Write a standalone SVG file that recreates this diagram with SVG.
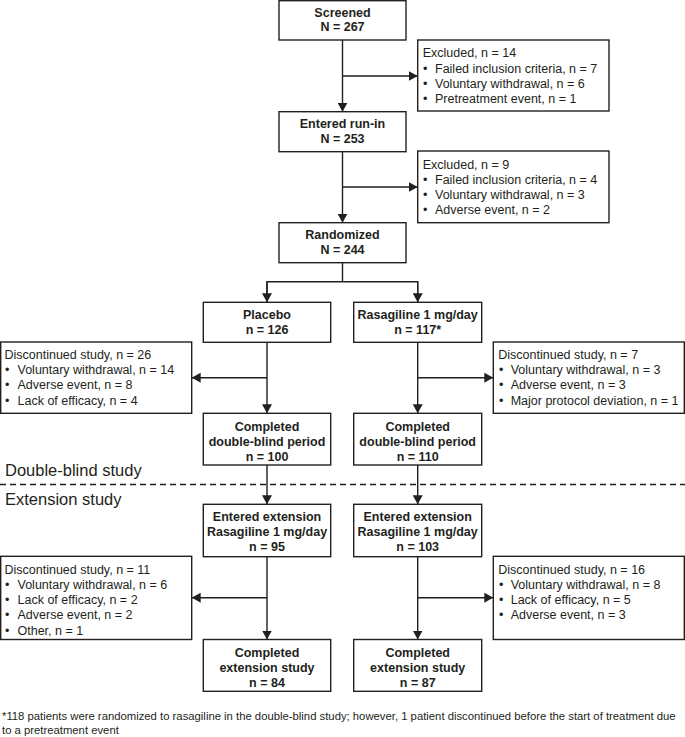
<svg xmlns="http://www.w3.org/2000/svg" width="685" height="737" viewBox="0 0 685 737">
<style>
.box{fill:#fff;stroke:#231f20;stroke-width:1.4}
.t{font-family:"Liberation Sans",Arial,sans-serif;font-size:12.5px;fill:#231f20}
.b{font-weight:bold;text-anchor:middle}
.ln{fill:none;stroke:#231f20;stroke-width:1.4}
.lbl{font-family:"Liberation Sans",Arial,sans-serif;font-size:16.5px;fill:#231f20}
.fn{font-family:"Liberation Sans",Arial,sans-serif;font-size:11.3px;fill:#231f20}
</style>
<defs>
<marker id="ah" markerUnits="userSpaceOnUse" markerWidth="9" markerHeight="10" refX="9" refY="5" orient="auto" viewBox="0 0 9 10">
<path d="M0,0 L9,5 L0,10 z" fill="#231f20"/>
</marker>
</defs>

<g id="connectors">
<line class="ln" x1="342.5" y1="40" x2="342.5" y2="111.7" marker-end="url(#ah)"/>
<line class="ln" x1="342.5" y1="76" x2="417.7" y2="76" marker-end="url(#ah)"/>
<line class="ln" x1="342.5" y1="151.7" x2="342.5" y2="222.7" marker-end="url(#ah)"/>
<line class="ln" x1="342.5" y1="187" x2="417.7" y2="187" marker-end="url(#ah)"/>
<polyline class="ln" points="342.5,262.7 342.5,281.7"/>
<polyline class="ln" points="267,302.3 267,281.7 417.7,281.7 417.7,302.3"/>
<line class="ln" x1="267" y1="281.7" x2="267" y2="302.3" marker-end="url(#ah)"/>
<line class="ln" x1="417.7" y1="281.7" x2="417.7" y2="302.3" marker-end="url(#ah)"/>
<line class="ln" x1="267" y1="342.3" x2="267" y2="413.3" marker-end="url(#ah)"/>
<line class="ln" x1="267" y1="377.7" x2="191.7" y2="377.7" marker-end="url(#ah)"/>
<line class="ln" x1="417.7" y1="342.3" x2="417.7" y2="413.3" marker-end="url(#ah)"/>
<line class="ln" x1="417.7" y1="377.7" x2="493.3" y2="377.7" marker-end="url(#ah)"/>
<line class="ln" x1="267" y1="465" x2="267" y2="504.3" marker-end="url(#ah)"/>
<line class="ln" x1="417.7" y1="465" x2="417.7" y2="504.3" marker-end="url(#ah)"/>
<line class="ln" x1="267" y1="556.7" x2="267" y2="639.5" marker-end="url(#ah)"/>
<line class="ln" x1="267" y1="597.7" x2="191.7" y2="597.7" marker-end="url(#ah)"/>
<line class="ln" x1="417.7" y1="556.7" x2="417.7" y2="639.5" marker-end="url(#ah)"/>
<line class="ln" x1="417.7" y1="597.7" x2="493.3" y2="597.7" marker-end="url(#ah)"/>
</g>

<g id="divider">
<line x1="0" y1="484.5" x2="685" y2="484.5" stroke="#231f20" stroke-width="1.3" stroke-dasharray="6 4"/>
<text class="lbl" x="5" y="475.5">Double-blind study</text>
<text class="lbl" x="5" y="505">Extension study</text>
</g>

<g id="screened">
<rect class="box" x="279" y="0.7" width="127" height="39.3"/>
<text class="t b" x="342.5" y="16.8">Screened</text>
<text class="t b" x="342.5" y="31.3">N = 267</text>
</g>

<g id="excluded1">
<rect class="box" x="417.7" y="40" width="191.3" height="71"/>
<text class="t" x="422.7" y="57.2">Excluded, n = 14</text>
<text class="t" x="423" y="72.5">•</text><text class="t" x="435" y="72.5">Failed inclusion criteria, n = 7</text>
<text class="t" x="423" y="87.7">•</text><text class="t" x="435" y="87.7">Voluntary withdrawal, n = 6</text>
<text class="t" x="423" y="102.8">•</text><text class="t" x="435" y="102.8">Pretreatment event, n = 1</text>
</g>

<g id="runin">
<rect class="box" x="279" y="111.7" width="127" height="40"/>
<text class="t b" x="342.5" y="128">Entered run-in</text>
<text class="t b" x="342.5" y="142.5">N = 253</text>
</g>

<g id="excluded2">
<rect class="box" x="417.7" y="151" width="191.3" height="71.7"/>
<text class="t" x="422.7" y="168.5">Excluded, n = 9</text>
<text class="t" x="423" y="183.7">•</text><text class="t" x="435" y="183.7">Failed inclusion criteria, n = 4</text>
<text class="t" x="423" y="198.9">•</text><text class="t" x="435" y="198.9">Voluntary withdrawal, n = 3</text>
<text class="t" x="423" y="214.1">•</text><text class="t" x="435" y="214.1">Adverse event, n = 2</text>
</g>

<g id="randomized">
<rect class="box" x="279" y="222.7" width="127" height="40"/>
<text class="t b" x="342.5" y="239">Randomized</text>
<text class="t b" x="342.5" y="254">N = 244</text>
</g>

<g id="placebo">
<rect class="box" x="203.3" y="302.3" width="127.4" height="40"/>
<text class="t b" x="267" y="318.5">Placebo</text>
<text class="t b" x="267" y="333.5">n = 126</text>
</g>

<g id="rasagiline">
<rect class="box" x="353.7" y="302.3" width="128" height="40"/>
<text class="t b" x="417.7" y="318.5">Rasagiline 1 mg/day</text>
<text class="t b" x="417.7" y="333.5">n = 117*</text>
</g>

<g id="disc1-placebo">
<rect class="box" x="0.7" y="342" width="191" height="71.3"/>
<text class="t" x="4.5" y="359">Discontinued study, n = 26</text>
<text class="t" x="5" y="374.2">•</text><text class="t" x="17.5" y="374.2">Voluntary withdrawal, n = 14</text>
<text class="t" x="5" y="389.4">•</text><text class="t" x="17.5" y="389.4">Adverse event, n = 8</text>
<text class="t" x="5" y="404.6">•</text><text class="t" x="17.5" y="404.6">Lack of efficacy, n = 4</text>
</g>

<g id="disc1-rasagiline">
<rect class="box" x="493.3" y="342" width="191" height="71.3"/>
<text class="t" x="498.3" y="359">Discontinued study, n = 7</text>
<text class="t" x="499" y="374.2">•</text><text class="t" x="510.7" y="374.2">Voluntary withdrawal, n = 3</text>
<text class="t" x="499" y="389.4">•</text><text class="t" x="510.7" y="389.4">Adverse event, n = 3</text>
<text class="t" x="499" y="404.6">•</text><text class="t" x="510.7" y="404.6">Major protocol deviation, n = 1</text>
</g>

<g id="completed-db-placebo">
<rect class="box" x="203.3" y="413.3" width="127.4" height="51.7"/>
<text class="t b" x="267" y="430.5">Completed</text>
<text class="t b" x="267" y="445.5">double-blind period</text>
<text class="t b" x="267" y="460.5">n = 100</text>
</g>

<g id="completed-db-rasagiline">
<rect class="box" x="353.7" y="413.3" width="128" height="51.7"/>
<text class="t b" x="417.7" y="430.5">Completed</text>
<text class="t b" x="417.7" y="445.5">double-blind period</text>
<text class="t b" x="417.7" y="460.5">n = 110</text>
</g>

<g id="entered-ext-placebo">
<rect class="box" x="203.3" y="504.3" width="127.4" height="52.4"/>
<text class="t b" x="267" y="520.5">Entered extension</text>
<text class="t b" x="267" y="535.5">Rasagiline 1 mg/day</text>
<text class="t b" x="267" y="550.5">n = 95</text>
</g>

<g id="entered-ext-rasagiline">
<rect class="box" x="353.7" y="504.3" width="128" height="52.4"/>
<text class="t b" x="417.7" y="520.5">Entered extension</text>
<text class="t b" x="417.7" y="535.5">Rasagiline 1 mg/day</text>
<text class="t b" x="417.7" y="550.5">n = 103</text>
</g>

<g id="disc2-placebo">
<rect class="box" x="0.7" y="556.3" width="191" height="83.2"/>
<text class="t" x="4.5" y="573.8">Discontinued study, n = 11</text>
<text class="t" x="5" y="589">•</text><text class="t" x="17.5" y="589">Voluntary withdrawal, n = 6</text>
<text class="t" x="5" y="604.2">•</text><text class="t" x="17.5" y="604.2">Lack of efficacy, n = 2</text>
<text class="t" x="5" y="619.4">•</text><text class="t" x="17.5" y="619.4">Adverse event, n = 2</text>
<text class="t" x="5" y="634.5">•</text><text class="t" x="17.5" y="634.5">Other, n = 1</text>
</g>

<g id="disc2-rasagiline">
<rect class="box" x="493.3" y="556.3" width="191" height="83.2"/>
<text class="t" x="498.3" y="573.8">Discontinued study, n = 16</text>
<text class="t" x="499" y="589">•</text><text class="t" x="510.7" y="589">Voluntary withdrawal, n = 8</text>
<text class="t" x="499" y="604.2">•</text><text class="t" x="510.7" y="604.2">Lack of efficacy, n = 5</text>
<text class="t" x="499" y="619.4">•</text><text class="t" x="510.7" y="619.4">Adverse event, n = 3</text>
</g>

<g id="completed-ext-placebo">
<rect class="box" x="203.3" y="639.5" width="127.4" height="51.8"/>
<text class="t b" x="267" y="657">Completed</text>
<text class="t b" x="267" y="672">extension study</text>
<text class="t b" x="267" y="687">n = 84</text>
</g>

<g id="completed-ext-rasagiline">
<rect class="box" x="353.7" y="639.5" width="128" height="51.8"/>
<text class="t b" x="417.7" y="657">Completed</text>
<text class="t b" x="417.7" y="672">extension study</text>
<text class="t b" x="417.7" y="687">n = 87</text>
</g>

<g id="footnote">
<text class="fn" x="2" y="720">*118 patients were randomized to rasagiline in the double-blind study; however, 1 patient discontinued before the start of treatment due</text>
<text class="fn" x="2" y="733.5">to a pretreatment event</text>
</g>
</svg>
